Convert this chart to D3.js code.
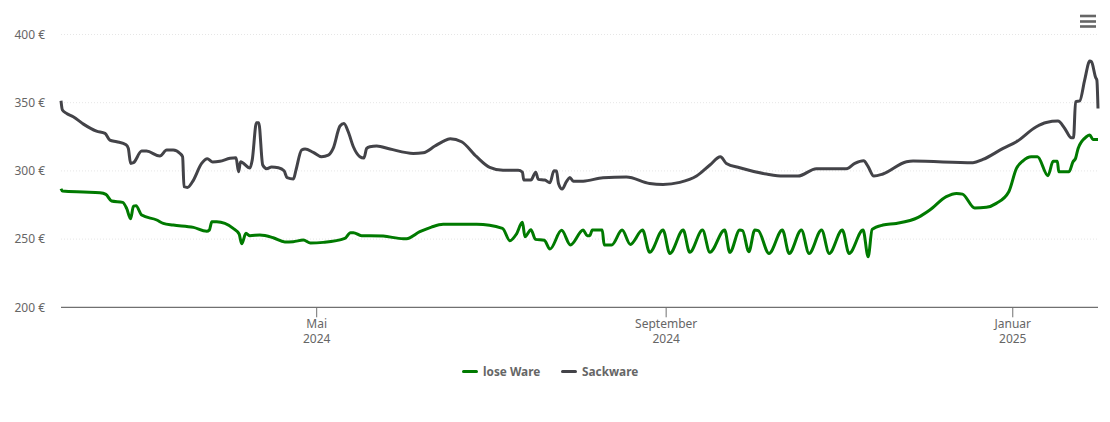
<!DOCTYPE html>
<html>
<head>
<meta charset="utf-8">
<script src="https://cdn.jsdelivr.net/npm/d3@7"></script>
<style>
  html, body { margin: 0; padding: 0; background: #fff; }
  svg { display: block; font-family: "Noto Sans", sans-serif; }
</style>
</head>
<body>
<svg id="chart"></svg>
<script>
// values, days counted from 1 Feb 2024
const startDate = Date.UTC(2024, 1, 1);
const endDay = 365;

const loseDays = [0, 0.5, 7.9, 13.7, 15.8, 17.8, 21.7, 23.1, 24.5, 25.5, 26.4, 28.4, 33.7, 36, 39.5, 46.6, 51.3, 52.2, 53.1, 54.8,
  60.6, 62.7, 63.6, 65.1, 66.5, 70, 74.7, 78.8, 81.7, 85.3, 87.8, 92.3, 99.9, 101.9, 102.9, 105.8, 108.7, 113.4, 120.5, 121.6,
  126.3, 130.4, 134.5, 146.3, 155.4, 158, 160.3, 162.4, 163.3, 165.4, 167, 170.1, 172.1, 176.2, 179.3, 183.8, 185.2, 186.1, 187, 190.5, 191.2,
  193.8, 197.5, 200.4, 204.7, 207.2, 211.9, 214.3, 219, 221.3, 225.8, 228.4, 233.6, 235.4, 238.9, 239.9, 242.1, 244.2, 245.4, 249.2, 253.9,
  256.3, 260.6, 263.3, 267.7, 270.4, 275, 277.4, 282.3, 284.1, 285.5, 289.3, 294, 301.7, 305.8, 311.6, 315.2, 317.3, 321.6, 325.7, 329.2,
  333.6, 336.3, 338.6, 341.5, 343.7, 347.4, 349.2, 350.7, 351.2, 354.8, 356.2, 357.1, 358, 360.9, 362.1, 363.2, 365];
const losePrices = [286.9, 285.2, 284.5, 284, 282.8, 277.9, 276.9, 272.5, 264.9, 274.2, 274.5, 267.6, 264, 261.5, 260.3, 258.6, 255.7, 256.6, 262.7, 262.7,
  257.9, 253.7, 246.6, 254.2, 252.5, 253, 251, 247.9, 248.1, 249.3, 247.1, 247.6, 250.5, 254.7, 254.7, 252.5, 252.5, 252.2, 250.3, 250.3,
  255.4, 258.8, 260.8, 260.8, 257.9, 248.8, 253.7, 262.3, 251.8, 256.9, 249.8, 249.1, 242.7, 256.4, 245.7, 256.6, 252.5, 252.5, 256.6, 256.6, 245.7,
  245.7, 256.6, 246.1, 256.6, 240.3, 256.6, 239.5, 256.6, 240.3, 256.6, 240.3, 256.6, 240.3, 256.6, 256.2, 240.8, 256.6, 256.2, 239.5, 256.6,
  239.5, 256.6, 239.5, 256.6, 239.5, 256.6, 239.5, 256.6, 237.1, 257.1, 260.3, 261.5, 265.9, 271.3, 281.1, 283.5, 283, 272.8, 273.3, 276.2,
  284.7, 301.8, 307.4, 310.4, 310.4, 296.5, 307, 307, 299.4, 299.4, 306.7, 309.2, 316.5, 325, 326.3, 323.1, 323.1];

const sackDays = [0, 0.5, 2, 4.3, 7.9, 12.5, 15.5, 17.2, 19.6, 22.9, 23.7, 24.5, 25.5, 28.4, 30.1, 34.8, 37.2, 39.5, 41.9, 42.8,
  43.3, 44.5, 46.3, 49.5, 51.5, 53.4, 55.9, 59.5, 61.6, 62.5, 63.2, 66.5, 67.3, 68.8, 69.6, 71, 72.4, 74.1, 76.5, 78.5,
  79.6, 81.8, 82.7, 84.7, 85.9, 88.8, 91.7, 94.1, 95.8, 98.2, 99.6, 101.1, 102.9, 105.2, 106.6, 107.6, 108.7, 111.1, 115.8, 124,
  127.5, 131.6, 134.5, 137, 141, 146.3, 150.9, 155.6, 160.9, 162.4, 162.9, 165.4, 167.1, 168, 170.3, 172.1, 173.5, 174.4, 175.1, 176.4, 177.9,
  179.1, 180.3, 183.8, 190.8, 199, 207.2, 211.9, 217.8, 223.7, 228.4, 232.1, 234.2, 238.9, 248.3, 254.2, 259.4, 265.9, 276.4, 279.4, 282.5,
  284.1, 286.1, 289.3, 297.6, 299.9, 321, 324.5, 331.6, 336.3, 343.3, 346.8, 350.9, 353.3, 355.6, 356.4, 357.1, 358.6, 360.3, 362.1, 362.7,
  364.2, 364.6, 365];
const sackPrices = [351.4, 344.6, 342.1, 339.7, 334.3, 329.2, 327.5, 322.6, 321.4, 319.2, 316.5, 305.5, 306, 314.5, 314.5, 310.9, 315.3, 315.3, 312.8, 310.4,
  288.4, 287.9, 292.1, 305.5, 308.9, 306.5, 307, 309.2, 309.6, 299.4, 306.7, 302.1, 307.9, 335.3, 335.3, 304.3, 301.6, 302.8, 302.3, 300.1,
  295, 294, 300.6, 315.3, 316, 313.6, 310.4, 311.6, 316.5, 332.9, 334.8, 328.7, 317.7, 310.4, 309.4, 316.5, 317.7, 318.2, 316, 312.8,
  313.3, 318.2, 321.7, 323.6, 321.4, 310.4, 302.6, 300.4, 300.4, 299.1, 293.3, 293.3, 299.1, 293.8, 293.3, 291.3, 300.1, 299.9, 290.8, 286.7, 292.1,
  295.2, 292.5, 292.5, 295, 295.5, 290.8, 290.1, 291.6, 296.2, 304.3, 310.4, 305.5, 302.3, 297.7, 296.2, 296.2, 301.6, 301.6, 305.5, 307.4,
  303.1, 296.2, 297.7, 306.7, 307.2, 306, 308.4, 316.5, 321.4, 332.4, 335.5, 336.5, 331.1, 324.3, 324.3, 350.7, 351.4, 366.6, 380.5, 380,
  368.3, 366.6, 345.8];

const priceTicks = [200, 250, 300, 350, 400];
const monthDates = [Date.UTC(2024, 4, 1), Date.UTC(2024, 8, 1), Date.UTC(2025, 0, 1)];
const monthLabels = [["Mai", "2024"], ["September", "2024"], ["Januar", "2025"]];
const seriesNames = ["lose Ware", "Sackware"];
const seriesColors = ["#007a00", "#434348"];

const width = 1110;
const height = 422;
const margin = { top: 34.5, right: 12, bottom: 114.7, left: 61 };

const svg = d3.select("#chart")
  .attr("width", width)
  .attr("height", height)
  .attr("viewBox", `0 0 ${width} ${height}`);

const toDate = day => new Date(startDate + day * 864e5);

const x = d3.scaleUtc()
  .domain([toDate(0), toDate(endDay)])
  .range([margin.left, width - margin.right]);

const y = d3.scaleLinear()
  .domain([200, 400])
  .range([height - margin.bottom, margin.top]);

// Y axis with dotted grid
const yAxis = svg.append("g")
  .attr("transform", `translate(${margin.left},0)`)
  .call(d3.axisLeft(y)
    .offset(0)
    .tickValues(priceTicks)
    .tickSize(-(width - margin.left - margin.right))
    .tickPadding(16)
    .tickFormat(d => `${d} €`));
yAxis.select(".domain").remove();
yAxis.selectAll(".tick line")
  .attr("stroke", "#e6e6e6")
  .attr("stroke-dasharray", "1,2");
yAxis.selectAll(".tick").filter(d => d === 200).select("line").remove();
yAxis.selectAll("text")
  .attr("fill", "#666")
  .attr("font-size", 12)
  .attr("font-family", '"Noto Sans", sans-serif')
  .attr("dy", "0.36em");

// X axis, two line labels
const xAxis = svg.append("g")
  .attr("transform", `translate(0,${height - margin.bottom})`)
  .call(d3.axisBottom(x)
    .offset(0)
    .tickValues(monthDates)
    .tickSize(10)
    .tickSizeOuter(0)
    .tickFormat(""));
xAxis.select(".domain").attr("stroke", "#707070").attr("stroke-width", 1.2);
xAxis.selectAll(".tick line").attr("stroke", "#707070");
xAxis.selectAll(".tick text")
  .attr("fill", "#666")
  .attr("font-size", 12)
  .attr("font-family", '"Noto Sans", sans-serif')
  .each(function(d, i) {
    const label = d3.select(this);
    label.attr("y", null).attr("dy", null);
    label.selectAll("tspan")
      .data(monthLabels[i])
      .join("tspan")
      .attr("x", 0)
      .attr("y", (t, j) => 20.3 + j * 15)
      .text(t => t);
  });

const line = d3.line()
  .x(d => x(toDate(d[0])))
  .y(d => y(d[1]))
  .curve(d3.curveMonotoneX);

const seriesData = [
  d3.zip(loseDays, losePrices),
  d3.zip(sackDays, sackPrices)
];

svg.selectAll("path.series")
  .data(seriesData)
  .join("path")
  .attr("class", "series")
  .attr("d", line)
  .attr("fill", "none")
  .attr("stroke", (d, i) => seriesColors[i])
  .attr("stroke-width", 3)
  .attr("stroke-linejoin", "round");

// Legend
const legendX = d3.scaleOrdinal().domain(seriesNames).range([462, 561]);
const legend = svg.selectAll("g.legend")
  .data(seriesNames)
  .join("g")
  .attr("class", "legend")
  .attr("transform", d => `translate(${legendX(d)},371.5)`);
legend.append("line")
  .attr("x1", 1.5)
  .attr("x2", 14.5)
  .attr("stroke", (d, i) => seriesColors[i])
  .attr("stroke-width", 3)
  .attr("stroke-linecap", "round");
legend.append("text")
  .attr("x", 21)
  .attr("dy", "0.35em")
  .attr("fill", "#666")
  .attr("font-size", 11.8)
  .attr("font-weight", "bold")
  .text(d => d);

// Menu icon
svg.append("g")
  .selectAll("line")
  .data([16, 21.5, 26.5])
  .join("line")
  .attr("x1", 1080)
  .attr("x2", 1096)
  .attr("y1", d => d)
  .attr("y2", d => d)
  .attr("stroke", "#666")
  .attr("stroke-width", 2.6);
</script>
</body>
</html>
